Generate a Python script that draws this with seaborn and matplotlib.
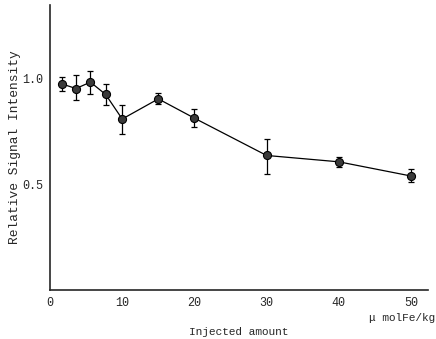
import numpy as np
import pandas as pd
import seaborn as sns
import matplotlib.pyplot as plt

dose = [1.6, 3.6, 5.6, 7.7, 10, 15, 20, 30, 40, 50]
intensity = [0.973, 0.951, 0.981, 0.923, 0.807, 0.902, 0.811, 0.635, 0.605, 0.538]
err_low = [0.033, 0.053, 0.056, 0.050, 0.071, 0.026, 0.042, 0.088, 0.025, 0.029]
err_high = [0.032, 0.062, 0.053, 0.047, 0.064, 0.027, 0.044, 0.079, 0.024, 0.031]

df = pd.DataFrame({"dose": dose, "intensity": intensity})

sns.set_style("ticks")
plt.rcParams["font.family"] = ["Liberation Mono", "DejaVu Sans"]

fig = plt.figure(figsize=(4.36, 3.39), dpi=100)
ax = fig.add_axes([0.1147, 0.1445, 0.867, 0.8407])

ax.errorbar(df["dose"], df["intensity"], yerr=[err_low, err_high],
            fmt="none", ecolor="black", elinewidth=0.9, capsize=2, capthick=0.9, zorder=2)
sns.lineplot(data=df, x="dose", y="intensity", ax=ax, color="black", linewidth=0.9,
             marker="o", markersize=5.8, markerfacecolor="#3a3a3a", markeredgecolor="black",
             markeredgewidth=0.8, zorder=3)

ax.set_xlim(0, 52.35)
ax.set_ylim(0, 1.345)
ax.set_xticks([0, 10, 20, 30, 40, 50])
ax.set_yticks([0.5, 1.0])
ax.set_yticklabels(["0.5", "1.0"])
ax.tick_params(length=0, labelsize=8.5, pad=5)
ax.set_xlabel("Injected amount", fontsize=8, labelpad=13)
ax.set_ylabel("Relative Signal Intensity", fontsize=9.3, labelpad=0.5)
for s in ["top", "right"]:
    ax.spines[s].set_visible(False)
ax.spines["left"].set_linewidth(1.2)
ax.spines["bottom"].set_linewidth(1.2)

fig.text(0.999, 0.062, "μ molFe/kg", fontsize=8, ha="right", va="center")

fig.savefig("out.png", dpi=100)
